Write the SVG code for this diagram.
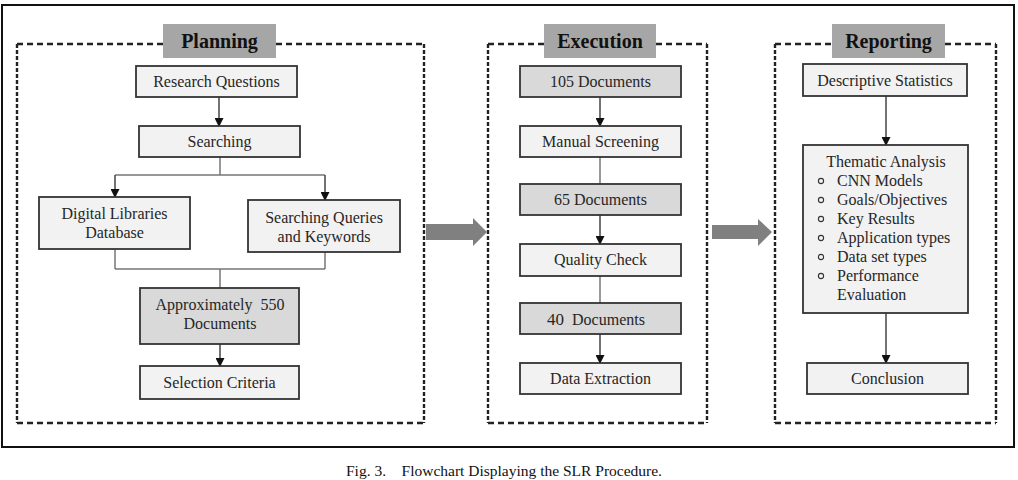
<svg xmlns="http://www.w3.org/2000/svg" width="1018" height="480" viewBox="0 0 1018 480">
<style>
text{font-family:"Liberation Serif","Times New Roman",serif;font-size:16px;fill:#262626;text-anchor:middle}
.title{font-weight:bold;font-size:20px;fill:#111}
.box{fill:#f2f2f2;stroke:#333;stroke-width:1.8}
.dbox{fill:#d9d9d9;stroke:#333;stroke-width:1.8}
.lbl{fill:#a6a6a6;stroke:none}
.dh{stroke:#222;stroke-width:2.4;stroke-dasharray:6 4;fill:none}
.dv{stroke:#222;stroke-width:2.4;stroke-dasharray:4 2;fill:none}
.arr{stroke:#444;stroke-width:1.5;fill:none;marker-end:url(#ah)}
.ln{stroke:#777;stroke-width:1.5;fill:none}
.big{fill:#808080}
.bul{fill:none;stroke:#333;stroke-width:1.1}
.cap{font-size:15.5px;fill:#111}
</style>
<defs>
<marker id="ah" markerUnits="userSpaceOnUse" markerWidth="9" markerHeight="9" refX="8" refY="4.5" orient="auto">
<path d="M0,0 L9,4.5 L0,9 z" fill="#111"/>
</marker>
</defs>
<rect x="2" y="5" width="1012" height="442" fill="#fff" stroke="#111" stroke-width="2"/>

<g id="planning-frame">
<path class="dh" d="M17,44 H163 M276,44 H424 M17,423 H424"/>
<path class="dv" d="M17,44 V423 M424,44 V423"/>
<rect class="lbl" x="163" y="24" width="113" height="34"/>
<text class="title" x="219.5" y="48">Planning</text>
</g>
<g id="execution-frame">
<path class="dh" d="M488,44 H544 M656,44 H707 M488,423 H707"/>
<path class="dv" d="M488,44 V423 M707,44 V423"/>
<rect class="lbl" x="544" y="24" width="112" height="34"/>
<text class="title" x="600" y="48">Execution</text>
</g>
<g id="reporting-frame">
<path class="dh" d="M775,44 H832 M945,44 H996 M775,423 H996"/>
<path class="dv" d="M775,44 V423 M996,44 V423"/>
<rect class="lbl" x="832" y="24" width="113" height="34"/>
<text class="title" x="888.5" y="48">Reporting</text>
</g>

<g id="connectors">
<path class="arr" d="M219,97 V126"/>
<path class="ln" d="M220,157 V175 M115,175 H325"/>
<path class="arr" d="M115,175 V197"/>
<path class="arr" d="M325,175 V200"/>
<path class="ln" d="M115,249 V269 M325,252 V269 M115,269 H325 M220,269 V288"/>
<path class="arr" d="M220,344 V366"/>
<path class="arr" d="M600,97 V126"/>
<path class="ln" d="M600,157 V184"/>
<path class="arr" d="M600,215 V244"/>
<path class="ln" d="M600,276 V303"/>
<path class="arr" d="M600,334 V363"/>
<path class="arr" d="M886,96 V145"/>
<path class="arr" d="M886,313 V363"/>
<path class="big" d="M426,224 H473 V218 L487,232 L473,246 V240 H426 z"/>
<path class="big" d="M712,225 H758 V219 L772,232 L758,246 V239 H712 z"/>
</g>

<g id="research-questions">
<rect class="box" x="136" y="66" width="161" height="31"/>
<text x="216.5" y="87">Research Questions</text>
</g>
<g id="searching">
<rect class="box" x="139" y="126" width="161" height="31"/>
<text x="219.5" y="147">Searching</text>
</g>
<g id="digital-libraries">
<rect class="box" x="39" y="197" width="151" height="52"/>
<text x="114.5" y="219">Digital Libraries</text>
<text x="114.5" y="238">Database</text>
</g>
<g id="search-queries">
<rect class="box" x="248" y="200" width="152" height="52"/>
<text x="324" y="223">Searching Queries</text>
<text x="324" y="242">and Keywords</text>
</g>
<g id="approx-550">
<rect class="dbox" x="140" y="288" width="159" height="56"/>
<text x="220" y="310" xml:space="preserve">Approximately  550</text>
<text x="220" y="329">Documents</text>
</g>
<g id="selection-criteria">
<rect class="box" x="140" y="366" width="159" height="33"/>
<text x="219.5" y="388">Selection Criteria</text>
</g>

<g id="doc-105">
<rect class="dbox" x="520" y="66" width="161" height="31"/>
<text x="600.5" y="87">105 Documents</text>
</g>
<g id="manual-screening">
<rect class="box" x="520" y="126" width="161" height="31"/>
<text x="600.5" y="147">Manual Screening</text>
</g>
<g id="doc-65">
<rect class="dbox" x="520" y="184" width="161" height="31"/>
<text x="600.5" y="205">65 Documents</text>
</g>
<g id="quality-check">
<rect class="box" x="520" y="244" width="161" height="32"/>
<text x="600.5" y="265">Quality Check</text>
</g>
<g id="doc-40">
<rect class="dbox" x="520" y="303" width="161" height="31"/>
<text x="596" y="325" xml:space="preserve"><tspan font-size="17">40</tspan>  Documents</text>
</g>
<g id="data-extraction">
<rect class="box" x="520" y="363" width="161" height="31"/>
<text x="600.5" y="384">Data Extraction</text>
</g>

<g id="descriptive-statistics">
<rect class="box" x="803" y="64" width="164" height="32"/>
<text x="885" y="86">Descriptive Statistics</text>
</g>
<g id="thematic-analysis">
<rect class="box" x="803" y="145" width="165" height="168"/>
<text x="886" y="167">Thematic Analysis</text>
<text x="837" y="186" style="text-anchor:start">CNN Models</text>
<text x="837" y="205" style="text-anchor:start">Goals/Objectives</text>
<text x="837" y="224" style="text-anchor:start">Key Results</text>
<text x="837" y="243" style="text-anchor:start">Application types</text>
<text x="837" y="262" style="text-anchor:start">Data set types</text>
<text x="837" y="281" style="text-anchor:start">Performance</text>
<text x="837" y="300" style="text-anchor:start">Evaluation</text>
<circle class="bul" cx="821" cy="181" r="2.6"/>
<circle class="bul" cx="821" cy="200" r="2.6"/>
<circle class="bul" cx="821" cy="219" r="2.6"/>
<circle class="bul" cx="821" cy="238" r="2.6"/>
<circle class="bul" cx="821" cy="257" r="2.6"/>
<circle class="bul" cx="821" cy="276" r="2.6"/>
</g>
<g id="conclusion">
<rect class="box" x="807" y="363" width="161" height="31"/>
<text x="887.5" y="384">Conclusion</text>
</g>

<text class="cap" x="346" y="476" style="text-anchor:start" xml:space="preserve">Fig. 3.    Flowchart Displaying the SLR Procedure.</text>
</svg>
